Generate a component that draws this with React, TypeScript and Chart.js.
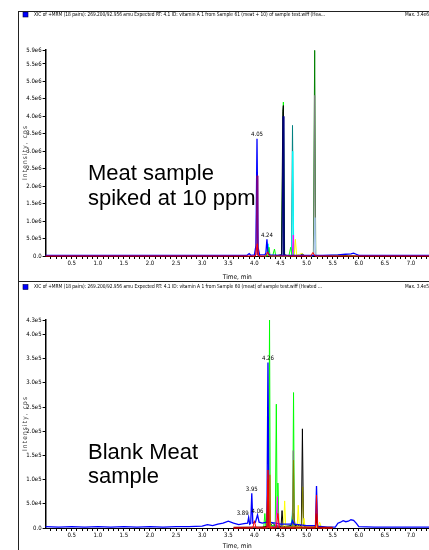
import React, { useEffect, useRef } from 'react';
import { Chart, registerables } from 'chart.js';

Chart.register(...registerables);

const NARROW = "'Liberation Sans Narrow', 'Arial Narrow', 'DejaVu Sans Condensed', sans-serif";
const SANS = "'Liberation Sans', Arial, sans-serif";

// ---- axes ----
const X_TICK_LABELS = ['0.5', '1.0', '1.5', '2.0', '2.5', '3.0', '3.5', '4.0', '4.5', '5.0', '5.5', '6.0', '6.5', '7.0'];
const X_MAX = 7.345; // min (image is cut at the right edge)

// top panel, intensity in units of 1e6 cps
const TOP_Y_TICKS = [0, 0.5, 1, 1.5, 2, 2.5, 3, 3.5, 4, 4.5, 5, 5.5, 5.9];
const TOP_Y_LABELS = ['0.0', '5.0e5', '1.0e6', '1.5e6', '2.0e6', '2.5e6', '3.0e6', '3.5e6', '4.0e6', '4.5e6', '5.0e6', '5.5e6', '5.9e6'];
// bottom panel, intensity in units of 1e5 cps
const BOT_Y_TICKS = [0, 0.5, 1, 1.5, 2, 2.5, 3, 3.5, 4, 4.3];
const BOT_Y_LABELS = ['0.0', '5.0e4', '1.0e5', '1.5e5', '2.0e5', '2.5e5', '3.0e5', '3.5e5', '4.0e5', '4.3e5'];

// ---- top panel traces: [time min, intensity 1e6 cps] ----
const topBlue = [[0, 0.02], [0.3, 0.015], [0.6, 0.02], [0.9, 0.015], [1.2, 0.02], [1.5, 0.015], [1.8, 0.02], [2.1, 0.015], [2.4, 0.02], [2.7, 0.015], [3.0, 0.02], [3.3, 0.015], [3.6, 0.02], [3.86, 0.02], [3.9, 0.07], [3.93, 0.02], [4.0, 0.03], [4.03, 0.3], [4.05, 3.36], [4.07, 0.25], [4.1, 0.03], [4.2, 0.03], [4.22, 0.08], [4.24, 0.48], [4.26, 0.08], [4.3, 0.03], [4.5, 0.02], [4.7, 0.02], [5.0, 0.02], [5.3, 0.02], [5.6, 0.03], [5.75, 0.05], [5.85, 0.06], [5.9, 0.08], [5.95, 0.05], [6.0, 0.02], [6.3, 0.02], [6.6, 0.02], [7.0, 0.02], [7.4, 0.02]];
const topPurple = [[3.98, 0], [4.03, 0.02], [4.05, 2.3], [4.065, 0.02], [4.12, 0]];
const topRed = [[0, 0], [3.6, 0], [4.02, 0], [4.055, 0.35], [4.08, 0], [4.22, 0], [4.255, 0.12], [4.28, 0], [5.08, 0], [5.12, 0.1], [5.16, 0], [7.4, 0]];
const topNavy = [[4.48, 0], [4.53, 0.02], [4.55, 4.0], [4.565, 0.02], [4.62, 0]];
const topBlack = [[4.4, 0], [4.52, 0.04], [4.545, 4.15], [4.555, 4.31], [4.575, 0.04], [4.65, 0], [4.86, 0], [4.92, 0.05], [4.97, 0]];
const topLime = [[4.2, 0], [4.26, 0.01], [4.28, 0.25], [4.3, 0.01], [4.35, 0], [4.385, 0.2], [4.41, 0], [4.52, 0], [4.555, 4.41], [4.58, 0], [4.66, 0], [4.695, 0.25], [4.72, 0], [4.8, 0]];
const topTeal = [[4.66, 0], [4.71, 0.02], [4.73, 3.74], [4.75, 0.02], [4.8, 0]];
const topCyan = [[4.2, 0], [4.245, 0.02], [4.265, 0.35], [4.285, 0.02], [4.34, 0], [4.68, 0], [4.715, 0.05], [4.735, 3.0], [4.755, 0.05], [4.8, 0]];
const topMagenta = [[4.68, 0], [4.725, 0.02], [4.745, 0.6], [4.765, 0.02], [4.8, 0]];
const topYellow = [[4.7, 0], [4.765, 0.02], [4.785, 0.48], [4.81, 0.02], [4.87, 0.05], [4.91, 0.08], [4.95, 0.02], [5.0, 0]];
const topGreen = [[5.0, 0], [5.13, 0.02], [5.155, 5.89], [5.175, 0.02], [5.25, 0], [5.5, 0.02], [5.6, 0.02], [5.8, 0.01], [6.0, 0]];
const topGray = [[5.08, 0], [5.135, 0.02], [5.155, 4.6], [5.17, 0.02], [5.22, 0]];
const topLightBlue = [[5.08, 0], [5.14, 0.02], [5.16, 1.1], [5.175, 0.02], [5.22, 0]];

// ---- bottom panel traces: [time min, intensity 1e5 cps] ----
const botBlue = [[0, 0.03], [0.25, 0.02], [0.5, 0.03], [0.75, 0.02], [1.0, 0.03], [1.25, 0.02], [1.5, 0.03], [1.75, 0.02], [2.0, 0.03], [2.25, 0.02], [2.5, 0.03], [2.75, 0.03], [3.0, 0.04], [3.1, 0.07], [3.2, 0.05], [3.3, 0.08], [3.4, 0.1], [3.5, 0.14], [3.6, 0.1], [3.7, 0.07], [3.8, 0.09], [3.87, 0.1], [3.89, 0.22], [3.91, 0.08], [3.93, 0.1], [3.95, 0.72], [3.97, 0.1], [4.02, 0.12], [4.06, 0.27], [4.09, 0.12], [4.15, 0.1], [4.24, 0.12], [4.26, 3.42], [4.28, 0.12], [4.4, 0.1], [4.5, 0.08], [4.6, 0.08], [4.71, 0.08], [4.73, 0.15], [4.76, 0.08], [5.0, 0.05], [5.17, 0.05], [5.19, 0.87], [5.21, 0.04], [5.4, 0.02], [5.55, 0.02], [5.6, 0.1], [5.65, 0.12], [5.7, 0.15], [5.75, 0.13], [5.8, 0.14], [5.85, 0.17], [5.9, 0.16], [5.95, 0.1], [6.0, 0.03], [6.3, 0.02], [6.6, 0.02], [7.0, 0.02], [7.4, 0.02]];
const botLime = [[4.1, 0], [4.18, 0.01], [4.2, 0.3], [4.22, 0.01], [4.27, 0.01], [4.29, 4.3], [4.305, 0.05], [4.4, 0.05], [4.42, 2.56], [4.435, 0.3], [4.45, 0.93], [4.47, 0.02], [4.6, 0.01], [4.7, 0.05], [4.735, 0.3], [4.75, 2.8], [4.765, 0.1], [4.8, 0], [5.0, 0]];
const botRed = [[3.6, 0], [3.97, 0], [4.0, 0.15], [4.03, 0], [4.24, 0], [4.26, 1.2], [4.28, 0], [4.42, 0], [4.45, 0.3], [4.48, 0], [5.17, 0], [5.19, 0.68], [5.21, 0], [5.5, 0]];
const botMaroon = [[3.6, 0.01], [4.0, 0.02], [4.24, 0.02], [4.26, 1.0], [4.28, 0.02], [4.5, 0.02], [4.9, 0.02], [5.17, 0.02], [5.19, 0.3], [5.21, 0.01], [5.5, 0.01]];
const botOrange = [[4.24, 0], [4.28, 0.02], [4.295, 1.1], [4.31, 0.02], [4.35, 0]];
const botMagenta = [[4.2, 0], [4.245, 0.02], [4.26, 0.5], [4.275, 0.02], [4.41, 0.02], [4.44, 0.65], [4.46, 0.02], [4.5, 0]];
const botYellow = [[4.5, 0], [4.56, 0.02], [4.58, 0.56], [4.6, 0.02], [4.82, 0.02], [4.84, 0.47], [4.86, 0.02], [4.93, 0.05], [4.95, 0.2], [4.97, 0.02], [5.22, 0.02], [5.25, 0.12], [5.28, 0.01], [5.35, 0]];
const botBlack = [[4.1, 0], [4.3, 0.05], [4.35, 0.1], [4.4, 0.05], [4.51, 0.03], [4.53, 0.36], [4.55, 0.03], [4.72, 0.05], [4.75, 0.3], [4.78, 0.05], [4.9, 0.05], [4.92, 2.05], [4.94, 0.05], [5.0, 0], [5.3, 0]];
const botOlive = [[4.7, 0], [4.735, 0.05], [4.75, 1.4], [4.765, 0.05], [4.8, 0], [4.89, 0], [4.905, 0.05], [4.925, 0.85], [4.945, 0.05], [5.0, 0]];
const botGray = [[4.7, 0], [4.73, 0.05], [4.745, 1.6], [4.76, 0.05], [4.8, 0]];
const botCyan = [[4.22, 0], [4.245, 0.02], [4.26, 0.2], [4.275, 0.02], [4.68, 0.02], [4.715, 0.05], [4.73, 0.4], [4.745, 0.05], [4.78, 0]];

// ---- peak labels ----
const TOP_PEAK_TIMES = [4.05, 4.24];
const TOP_PEAK_VALUES = [3.36, 0.48];
const TOP_PEAK_TEXTS = ['4.05', '4.24'];
const BOT_PEAK_TIMES = [4.26, 3.95, 3.89, 4.06];
const BOT_PEAK_VALUES = [3.42, 0.72, 0.22, 0.27];
const BOT_PEAK_TEXTS = ['4.26', '3.95', '3.89', '4.06'];
const BOT_PEAK_DX = [0, 0, -6, 0];

const TOP_HEADER = 'XIC of +MRM (18 pairs): 269.200/92.956 amu Expected RT: 4.1 ID: vitamin A 1 from Sample 61 (meat + 10) of sample test.wiff (Hea...';
const BOT_HEADER = 'XIC of +MRM (18 pairs): 269.200/92.956 amu Expected RT: 4.1 ID: vitamin A 1 from Sample 60 (meat) of sample test.wiff (Heated ...';
const TOP_MAX = 'Max. 3.4e6 cps.';
const BOT_MAX = 'Max. 3.4e5 cps.';
const TOP_NOTE = ['Meat sample', 'spiked at 10 ppm'];
const BOT_NOTE = ['Blank Meat', 'sample'];

type Trace = { pts: number[][]; color: string; width?: number };

const TOP_TRACES: Trace[] = [
  { pts: topRed, color: '#ff0000' },
  { pts: topPurple, color: '#800080' },
  { pts: topBlue, color: '#0000ff', width: 1.3 },
  { pts: topNavy, color: '#000080' },
  { pts: topBlack, color: '#000000' },
  { pts: topLime, color: '#00ff00' },
  { pts: topYellow, color: '#ffff00' },
  { pts: topMagenta, color: '#ff00ff' },
  { pts: topCyan, color: '#00ffff' },
  { pts: topTeal, color: '#008080' },
  { pts: topLightBlue, color: '#a6caf0' },
  { pts: topGray, color: '#808080' },
  { pts: topGreen, color: '#008000' },
];

const BOT_TRACES: Trace[] = [
  { pts: botRed, color: '#ff0000' },
  { pts: botOrange, color: '#c86400' },
  { pts: botMaroon, color: '#800000', width: 1.3 },
  { pts: botMagenta, color: '#ff00ff' },
  { pts: botBlue, color: '#0000ff', width: 1.3 },
  { pts: botYellow, color: '#ffff00' },
  { pts: botOlive, color: '#808000' },
  { pts: botGray, color: '#808080' },
  { pts: botCyan, color: '#00c0c0' },
  { pts: botBlack, color: '#000000' },
  { pts: botLime, color: '#00ff00' },
];

type Spec = {
  traces: Trace[];
  yMax: number;
  yTicks: number[];
  yLabels: string[];
  padTop: number;
  xAxisH: number;
  header: string;
  headerW: number;
  headerY: number;
  maxText: string;
  peakT: number[];
  peakV: number[];
  peakText: string[];
  peakDx: number[];
  note: string[];
  noteX: number;
  noteY: number[];
};

const TOP_SPEC: Spec = {
  traces: TOP_TRACES, yMax: 5.9, yTicks: TOP_Y_TICKS, yLabels: TOP_Y_LABELS,
  padTop: 50, xAxisH: 25, header: TOP_HEADER, headerW: 291, headerY: 14.5, maxText: TOP_MAX,
  peakT: TOP_PEAK_TIMES, peakV: TOP_PEAK_VALUES, peakText: TOP_PEAK_TEXTS, peakDx: [0, 0],
  note: TOP_NOTE, noteX: 88, noteY: [180, 205],
};
const BOT_SPEC: Spec = {
  traces: BOT_TRACES, yMax: 4.3, yTicks: BOT_Y_TICKS, yLabels: BOT_Y_LABELS,
  padTop: 38, xAxisH: 22, header: BOT_HEADER, headerW: 288, headerY: 5, maxText: BOT_MAX,
  peakT: BOT_PEAK_TIMES, peakV: BOT_PEAK_VALUES, peakText: BOT_PEAK_TEXTS, peakDx: BOT_PEAK_DX,
  note: BOT_NOTE, noteX: 88, noteY: [177, 201],
};

const MINOR_TICKS: number[] = [];
for (let i = 1; i * 0.1 <= X_MAX; i++) MINOR_TICKS.push(Math.round(i) / 10);

function makeDecor(spec: Spec) {
  return {
    id: 'decor',
    afterDraw(chart: any) {
      const ctx = chart.ctx as CanvasRenderingContext2D;
      const ca = chart.chartArea;
      const xs = chart.scales.x;
      const ys = chart.scales.y;
      ctx.save();
      // header
      ctx.fillStyle = '#0000ff';
      ctx.fillRect(23, spec.headerY - 2.5, 5, 5);
      ctx.strokeStyle = '#000040';
      ctx.lineWidth = 0.6;
      ctx.strokeRect(23, spec.headerY - 2.5, 5, 5);
      ctx.font = `5.5px ${NARROW}`;
      ctx.textBaseline = 'middle';
      ctx.textAlign = 'left';
      ctx.fillStyle = '#000';
      const w = ctx.measureText(spec.header).width;
      const k = spec.headerW / w;
      ctx.save();
      ctx.translate(34, spec.headerY);
      ctx.scale(k, 1);
      ctx.fillText(spec.header, 0, 0);
      ctx.restore();
      ctx.save();
      ctx.translate(405, spec.headerY);
      ctx.scale(k, 1);
      ctx.fillText(spec.maxText, 0, 0);
      ctx.restore();

      // y title with letter spacing
      const title = 'Intensity, cps';
      ctx.font = `6.5px ${NARROW}`;
      ctx.fillStyle = '#333';
      const widths = title.split('').map((c) => ctx.measureText(c).width);
      const raw = widths.reduce((a, b) => a + b, 0);
      const total = 54;
      const gap = (total - raw) / (title.length - 1);
      ctx.save();
      ctx.translate(25, (ca.top + ca.bottom) / 2);
      ctx.rotate(-Math.PI / 2);
      let px = -total / 2;
      ctx.textBaseline = 'middle';
      title.split('').forEach((c, i) => {
        ctx.fillText(c, px, 0);
        px += widths[i] + gap;
      });
      ctx.restore();

      // peak labels
      ctx.font = `6px ${NARROW}`;
      ctx.fillStyle = '#000';
      ctx.textAlign = 'center';
      ctx.textBaseline = 'bottom';
      spec.peakT.forEach((t, i) => {
        const x = xs.getPixelForValue(t) + spec.peakDx[i];
        const y = ys.getPixelForValue(spec.peakV[i]) - 1;
        ctx.fillText(spec.peakText[i], x, y);
      });

      // big annotation
      ctx.font = `22px ${SANS}`;
      ctx.textAlign = 'left';
      ctx.textBaseline = 'alphabetic';
      ctx.fillStyle = '#000';
      spec.note.forEach((line, i) => ctx.fillText(line, spec.noteX, spec.noteY[i]));
      ctx.restore();
    },
  };
}

function buildConfig(spec: Spec): any {
  return {
    type: 'line',
    data: {
      datasets: spec.traces.map((tr) => ({
        data: tr.pts.map(([x, y]) => ({ x, y })),
        borderColor: tr.color,
        borderWidth: tr.width ?? 1,
        pointRadius: 0,
        fill: false,
        tension: 0,
        clip: 2,
      })),
    },
    options: {
      animation: false,
      responsive: false,
      events: [],
      layout: { padding: { top: spec.padTop, left: 0, right: 0, bottom: 0 } },
      plugins: { legend: { display: false }, tooltip: { enabled: false }, title: { display: false } },
      scales: {
        x: {
          type: 'linear',
          min: 0,
          max: X_MAX,
          afterBuildTicks: (s: any) => {
            s.ticks = MINOR_TICKS.map((v) => ({ value: v }));
          },
          afterFit: (s: any) => {
            s.height = spec.xAxisH;
          },
          ticks: {
            autoSkip: false,
            maxRotation: 0,
            minRotation: 0,
            padding: 1,
            color: '#000',
            font: { family: NARROW, size: 6 },
            callback: (v: any) => {
              const s = Number(v).toFixed(1);
              return X_TICK_LABELS.includes(s) ? s : '';
            },
          },
          grid: { drawOnChartArea: false, drawTicks: true, tickLength: 3, color: '#000', lineWidth: 1 },
          border: { display: true, color: '#000', width: 1 },
          title: { display: true, text: 'Time, min', color: '#000', font: { family: NARROW, size: 6.5 }, padding: 0 },
        },
        y: {
          type: 'linear',
          min: 0,
          max: spec.yMax,
          afterBuildTicks: (s: any) => {
            s.ticks = spec.yTicks.map((v) => ({ value: v }));
          },
          afterFit: (s: any) => {
            s.width = 45.6;
          },
          ticks: {
            autoSkip: false,
            padding: 1,
            color: '#000',
            font: { family: NARROW, size: 6 },
            callback: (_v: any, i: number) => spec.yLabels[i],
          },
          grid: { drawOnChartArea: false, drawTicks: true, tickLength: 3, color: '#000', lineWidth: 1 },
          border: { display: true, color: '#000', width: 1.5 },
        },
      },
    },
    plugins: [makeDecor(spec)],
  };
}

export default function App() {
  const topRef = useRef<HTMLCanvasElement>(null);
  const botRef = useRef<HTMLCanvasElement>(null);
  useEffect(() => {
    const c1 = new Chart(topRef.current as HTMLCanvasElement, buildConfig(TOP_SPEC));
    const c2 = new Chart(botRef.current as HTMLCanvasElement, buildConfig(BOT_SPEC));
    return () => {
      c1.destroy();
      c2.destroy();
    };
  }, []);
  return (
    <div style={{ position: 'absolute', left: 0, top: 0, width: 429, height: 550, overflow: 'hidden', background: '#fff' }}>
      <canvas ref={topRef} width={429} height={281} style={{ position: 'absolute', left: 0, top: 0 }} />
      <canvas ref={botRef} width={429} height={268} style={{ position: 'absolute', left: 0, top: 282 }} />
      <div style={{ position: 'absolute', left: 18, top: 11, width: 1, height: 539, background: '#222' }} />
      <div style={{ position: 'absolute', left: 18, top: 11, width: 411, height: 1, background: '#222' }} />
      <div style={{ position: 'absolute', left: 18, top: 281, width: 411, height: 1, background: '#222' }} />
    </div>
  );
}
